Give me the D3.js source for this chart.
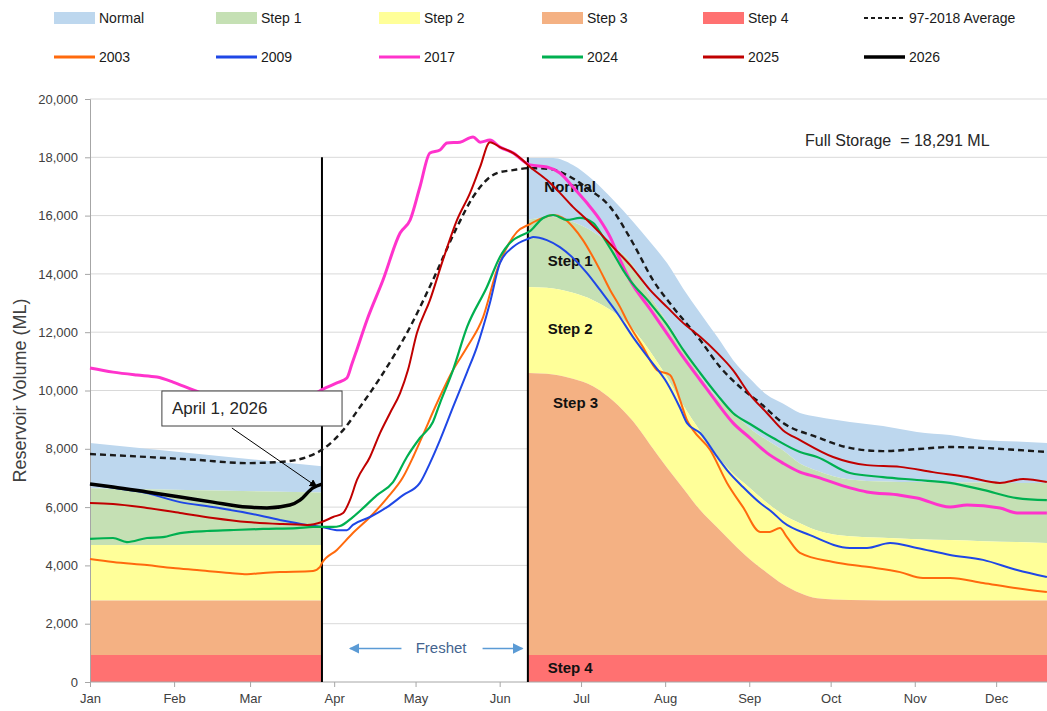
<!DOCTYPE html>
<html><head><meta charset="utf-8">
<script src="https://cdn.jsdelivr.net/npm/d3@7"></script>
<style>
body{margin:0;background:#fff;}
svg{display:block;font-family:"Liberation Sans",Arial,sans-serif;}
</style>
</head><body>
<svg id="chart" width="1047" height="711"></svg>
<script>
// ---------- DATA ----------
const monthLabels = ["Jan","Feb","Mar","Apr","May","Jun","Jul","Aug","Sep","Oct","Nov","Dec"];
const monthStartDays = [0,31,59,90,120,151,181,212,243,273,304,334];
const yTickValues = [0,2000,4000,6000,8000,10000,12000,14000,16000,18000,20000];

// Drought-stage bands (upper limit of each band, ML)
const seg1Days = [0, 85.5];
const normalTop1 = [8200, 7400];
const step1Top1  = [6650, 6500];
const step2Top1  = [4700, 4700];
const step3Top1  = [2800, 2800];
const step4Top1  = [925, 925];

const seg2Days  = [161.4,170.7,178,185.4,192.8,200.1,206.4,212.7,218.6,224.9,231.2,237,243.3,249.5,255.4,261.7,268,280.1,292.3,304.8,317,329.2,341.7,352.7,365];
const normalTop2 = [17980,17980,17740,17220,16540,15800,15100,14370,13500,12660,11840,11050,10400,9850,9550,9230,9100,8920,8780,8580,8470,8300,8250,8200,8150];
const step1Top2  = [15850,15950,15780,15450,14950,14300,13250,12350,11450,10500,9750,9250,8700,8300,7950,7500,7250,6950,6880,6860,6850,6840,6830,6830,6800];
const step2Top2  = [13550,13500,13350,13100,12700,12100,11350,10450,9500,8600,7750,7150,6650,6150,5750,5450,5200,5000,4950,4900,4870,4830,4800,4770,4720];
const step3Top2  = [10600,10550,10400,10150,9650,8950,8150,7350,6650,5900,5300,4750,4200,3750,3350,3050,2870,2810,2800,2800,2800,2800,2800,2800,2800];
const step4Top2  = [925,925,925,925,925,925,925,925,925,925,925,925,925,925,925,925,925,925,925,925,925,925,925,925,925];

const bandNames  = ["Normal","Step 1","Step 2","Step 3","Step 4"];
const bandColors = ["#bdd7ee","#c5e0b4","#ffff99","#f4b183","#ff7171"];

// Series: [dayOfYear, volume ML]
const avg9718 = [[0,7820],[21,7720],[39.4,7620],[57.9,7510],[70,7550],[80,7720],[85.9,7990],[93.3,8640],[99.5,9430],[106.9,10430],[118,12180],[126.4,13790],[135.3,15610],[141.2,16640],[150,17460],[155.9,17560],[162.2,17630],[169.6,17600],[175.8,17390],[183.2,16950],[191.7,16300],[200.1,15060],[207.5,13790],[214.9,12860],[224.9,11730],[232.2,10810],[239.6,10120],[247,9570],[255.4,8890],[268,8400],[280.1,8030],[292.3,7920],[304.8,7990],[317,8060],[329.2,8030],[341.7,7960],[352.7,7890]];
const y2003 = [[0,4220],[8.5,4120],[21,4010],[30.6,3910],[39.4,3840],[51.6,3740],[57.9,3700],[63.8,3740],[70,3770],[82.2,3810],[84.8,3950],[85.5,4080],[91,4530],[96.9,5110],[103.2,5660],[109.5,6310],[115.4,7030],[119.1,7720],[122.7,8470],[127.9,9570],[133.8,10700],[139,11490],[144.9,12520],[150,14130],[153.7,14920],[157.4,15440],[162.2,15710],[167,15920],[170.7,16020],[174.3,15920],[178,15610],[181.7,15160],[185.4,14580],[188,14130],[191.7,13450],[195.4,12860],[198,12380],[203.8,11490],[209,10700],[213.8,10530],[217.5,9670],[220,8990],[222.3,8640],[228.6,7960],[234.8,6830],[240.7,6000],[247,5150],[250.6,5150],[254.3,5280],[256.9,4970],[261.7,4430],[273.9,4120],[286.4,3950],[298.6,3770],[307,3570],[317,3570],[329.2,3400],[341.7,3220],[352.7,3090]];
const y2009 = [[0,6790],[8.5,6660],[21,6480],[33.2,6170],[45.3,6000],[57.9,5800],[70,5560],[80,5390],[85.5,5320],[91,5210],[94.7,5210],[96.9,5390],[103.2,5660],[109.5,6000],[115.4,6410],[121.6,6830],[125.3,7510],[129,8300],[133.8,9430],[139,10630],[142.6,11490],[147.4,13000],[151.1,14370],[155.9,14920],[162.2,15230],[163.3,15270],[168.4,15160],[173.2,14920],[178,14550],[183.2,14030],[188,13450],[194.3,12660],[200.1,11840],[206.4,11050],[212.7,10260],[217.5,9400],[220,8890],[224.9,8540],[231.2,7720],[234.8,7270],[240.7,6690],[247,6140],[251.8,5800],[255.4,5490],[265.4,5040],[280.1,4600],[286.4,4600],[294.9,4770],[304.8,4600],[317,4360],[329.2,4190],[341.7,3840],[352.7,3600]];
const y2017 = [[0,10770],[8.5,10630],[17.3,10530],[24.7,10460],[30.6,10290],[38,10020],[50,9650],[65,9550],[78,9650],[85.9,10050],[91,10260],[94.7,10430],[96.5,10900],[98,11300],[102.1,12420],[108,13790],[114.3,15400],[118,15850],[121.6,16980],[125.3,18150],[129,18250],[131.6,18490],[136.4,18520],[141.2,18700],[143.8,18520],[147.4,18590],[151.1,18350],[155.9,18150],[162.2,17740],[168.4,17670],[173.2,17460],[178,16980],[183.2,16430],[188,15850],[191.7,15270],[195.4,14480],[199,13790],[206.4,12800],[212.7,11950],[218.6,11150],[224.9,10360],[231.2,9570],[237,8890],[243.3,8370],[249.5,7860],[255.4,7510],[261.7,7200],[268,7030],[280.1,6660],[286.4,6520],[298.6,6410],[304.8,6310],[317,6000],[323.3,6070],[335.4,5970],[341.7,5800],[352.7,5800]];
const y2024 = [[0,4910],[8.5,4940],[13.6,4800],[21,4940],[26.9,4970],[33.2,5110],[43.1,5180],[51.6,5210],[63.8,5250],[76.3,5280],[82.2,5320],[85.5,5320],[89.6,5320],[92.1,5350],[96.9,5660],[105.8,6410],[111.7,6860],[116.8,7720],[121.6,8370],[126.4,8920],[129,9570],[133.8,10700],[139,12180],[146.3,13550],[151.1,14580],[155.9,15160],[158.5,15300],[162.2,15470],[167,15920],[170.7,16020],[175.8,15850],[180.6,15920],[185.4,15750],[189.1,15270],[192.8,14720],[196.5,14130],[199,13790],[206.4,13000],[212.7,12250],[218.6,11400],[224.9,10600],[231.2,9850],[237,9230],[243.3,8850],[251.8,8370],[261.7,7890],[268,7720],[280.1,7170],[292.3,7030],[304.8,6930],[317,6830],[329.2,6590],[341.7,6310],[352.7,6240]];
const y2025 = [[0,6140],[8.5,6110],[21,5970],[33.2,5800],[45.3,5630],[57.9,5490],[70,5420],[80,5390],[85.5,5490],[89.6,5660],[93.3,5800],[95.8,6240],[98.4,6930],[103.2,7720],[106.9,8540],[110.6,9230],[114.3,9910],[117.2,10700],[120.5,11970],[125.3,13100],[130.1,14480],[135.3,15850],[140.1,16780],[143.8,17670],[147.4,18520],[151.1,18350],[155.9,18150],[158.5,17980],[162.2,17670],[168.4,17220],[173.2,16780],[178,16300],[183.2,15850],[188,15400],[192.8,14920],[199,14310],[206.4,13450],[212.7,12860],[218.6,12320],[224.9,11840],[231.2,11290],[237,10700],[243.3,9850],[249.5,9230],[255.4,8640],[261.7,8300],[273.9,7720],[286.4,7440],[298.6,7380],[310.7,7200],[323.3,7030],[335.4,6830],[343.9,6960],[352.7,6860]];
const y2026 = [[0,6790],[8.5,6690],[21,6520],[33.2,6350],[45.3,6170],[57.9,6000],[65.2,5970],[73.7,6070],[77.4,6240],[82.2,6660],[85.5,6790]];

const seriesNames  = ["97-2018 Average","2003","2009","2017","2024","2025","2026"];
const seriesData   = [avg9718, y2003, y2009, y2017, y2024, y2025, y2026];
const seriesColors = ["#1a1a1a","#ff6a0d","#1f47e6","#ff33cc","#00b050","#c00000","#000000"];
const seriesWidths = [2.4, 2, 2, 3, 2.2, 2, 3.5];

const freshetBounds = [85.5, 161.4];   // vertical marker lines (day of year)
const markerTop = 18000;
const fullStorageText = "Full Storage  = 18,291 ML";

// ---------- CHART ----------
const W = 1047, H = 711;
const svg = d3.select("#chart");
const x = d3.scaleLinear().domain([0, 365]).range([90, 90 + 365 * 2.713]);
const y = d3.scaleLinear().domain([0, 20000]).range([682, 99]);
const plotRight = W;

// gridlines
svg.append("g").selectAll("line").data(yTickValues.filter(d => d > 0)).join("line")
  .attr("x1", 90).attr("x2", plotRight).attr("y1", d => y(d)).attr("y2", d => y(d))
  .attr("stroke", "#d9d9d9").attr("stroke-width", 1);

// bands
function bandRows(days, tops) {
  return days.map((d, i) => ({ day: d, tops: tops.map(t => t[i]) }));
}
const seg1 = bandRows(seg1Days, [normalTop1, step1Top1, step2Top1, step3Top1, step4Top1]);
const seg2 = bandRows(seg2Days, [normalTop2, step1Top2, step2Top2, step3Top2, step4Top2]);
const gBands = svg.append("g");
[seg1, seg2].forEach(seg => {
  bandNames.forEach((name, bi) => {
    const area = d3.area().curve(d3.curveMonotoneX)
      .x(r => x(r.day))
      .y0(r => y(bi < 4 ? r.tops[bi + 1] : 0))
      .y1(r => y(r.tops[bi]));
    gBands.append("path").datum(seg).attr("d", area).attr("fill", bandColors[bi]);
  });
});

// axes
const yAxis = d3.axisLeft(y).tickValues(yTickValues).tickFormat(d3.format(",")).tickSize(5).tickPadding(7);
const gy = svg.append("g").attr("transform", "translate(90,0)").call(yAxis);
const xAxis = d3.axisBottom(x).tickValues(monthStartDays).tickFormat((d, i) => monthLabels[i]).tickSize(5).tickPadding(7);
const gx = svg.append("g").attr("transform", "translate(0,682)").call(xAxis);
[gy, gx].forEach(g => {
  g.select(".domain").attr("stroke", "#a6a6a6");
  g.selectAll(".tick line").attr("stroke", "#a6a6a6");
  g.selectAll(".tick text").attr("fill", "#404040").style("font-size", "13px").style("font-family", "'Liberation Sans',Arial,sans-serif");
});
gx.select(".domain").attr("d", `M90,0H${plotRight}`);

svg.append("text").attr("transform", `translate(26,${(y(0) + y(20000)) / 2}) rotate(-90)`)
  .attr("text-anchor", "middle").attr("fill", "#404040").style("font-size", "18px")
  .text("Reservoir Volume (ML)");

// vertical marker lines
svg.append("g").selectAll("line").data(freshetBounds).join("line")
  .attr("x1", d => x(d)).attr("x2", d => x(d)).attr("y1", y(0)).attr("y2", y(markerTop))
  .attr("stroke", "#000").attr("stroke-width", 2);

// band labels
const bandLabelPos = [[177, 16800], [177, 14270], [177, 11950], [179, 9400], [177, 310]];
svg.append("g").selectAll("text").data(bandNames).join("text")
  .attr("x", (d, i) => x(bandLabelPos[i][0])).attr("y", (d, i) => y(bandLabelPos[i][1]))
  .attr("text-anchor", "middle").attr("font-weight", "bold").style("font-size", "15px").attr("fill", "#111")
  .text(d => d);

// series lines
const line = d3.line().curve(d3.curveMonotoneX).x(d => x(d[0])).y(d => y(d[1]));
const gLines = svg.append("g");
seriesData.forEach((data, i) => {
  gLines.append("path").datum(data).attr("d", line).attr("fill", "none")
    .attr("stroke", seriesColors[i]).attr("stroke-width", seriesWidths[i])
    .attr("stroke-linejoin", "round")
    .attr("stroke-dasharray", i === 0 ? "6,4" : null);
});

// Freshet annotation
const freshetY = 1150;
const defs = svg.append("defs");
defs.append("marker").attr("id", "blueHead").attr("viewBox", "0 0 10 10").attr("refX", 9).attr("refY", 5)
  .attr("markerWidth", 7).attr("markerHeight", 7).attr("orient", "auto")
  .append("path").attr("d", "M0,0L10,5L0,10Z").attr("fill", "#5b9bd5");
defs.append("marker").attr("id", "blackHead").attr("viewBox", "0 0 10 10").attr("refX", 9).attr("refY", 5)
  .attr("markerWidth", 8).attr("markerHeight", 8).attr("orient", "auto")
  .append("path").attr("d", "M0,0L10,5L0,10Z").attr("fill", "#000");
[[114.8, 95.8], [144.7, 159.4]].forEach(([a, b]) => {
  svg.append("line").attr("x1", x(a)).attr("x2", x(b)).attr("y1", y(freshetY)).attr("y2", y(freshetY))
    .attr("stroke", "#5b9bd5").attr("stroke-width", 1.5).attr("marker-end", "url(#blueHead)");
});
svg.append("text").attr("x", x(129.4)).attr("y", y(freshetY) + 5).attr("text-anchor", "middle")
  .attr("fill", "#44648f").style("font-size", "15px").text("Freshet");

// April 1, 2026 callout
svg.append("line").attr("x1", x(52.3)).attr("y1", y(8714)).attr("x2", x(83.6)).attr("y2", y(6700))
  .attr("stroke", "#000").attr("stroke-width", 1).attr("marker-end", "url(#blackHead)");
svg.append("rect").attr("x", x(26.5)).attr("y", y(9983)).attr("width", x(92.9) - x(26.5)).attr("height", y(8782) - y(9983))
  .attr("fill", "#fff").attr("stroke", "#404040").attr("stroke-width", 1);
svg.append("text").attr("x", x(26.5) + 10).attr("y", y(9983) + 23).attr("fill", "#262626")
  .style("font-size", "17px").text("April 1, 2026");

// Full storage note
svg.append("text").attr("x", 805).attr("y", 146).attr("fill", "#262626").style("font-size", "16px")
  .style("white-space", "pre").attr("xml:space", "preserve").text(fullStorageText);

// legend
const legendX = [54, 216, 379, 542, 703, 864];
const row1 = bandNames.map((n, i) => ({ name: n, kind: "rect", color: bandColors[i] }))
  .concat([{ name: seriesNames[0], kind: "line", color: seriesColors[0], w: 2.2, dash: "4,3" }]);
const row2 = seriesNames.slice(1).map((n, i) => ({ name: n, kind: "line", color: seriesColors[i + 1], w: Math.max(3, seriesWidths[i + 1]) }));
[[row1, 18], [row2, 57]].forEach(([items, cy]) => {
  items.forEach((it, i) => {
    const g = svg.append("g").attr("transform", `translate(${legendX[i]},${cy})`);
    if (it.kind === "rect") {
      g.append("rect").attr("x", 0).attr("y", -6).attr("width", 41).attr("height", 12).attr("fill", it.color);
    } else {
      g.append("line").attr("x1", 0).attr("x2", 41).attr("y1", 0).attr("y2", 0)
        .attr("stroke", it.color).attr("stroke-width", it.w).attr("stroke-dasharray", it.dash || null);
    }
    g.append("text").attr("x", 45).attr("y", 5).attr("fill", "#1a1a1a").style("font-size", "14px").text(it.name);
  });
});
</script>
</body></html>
